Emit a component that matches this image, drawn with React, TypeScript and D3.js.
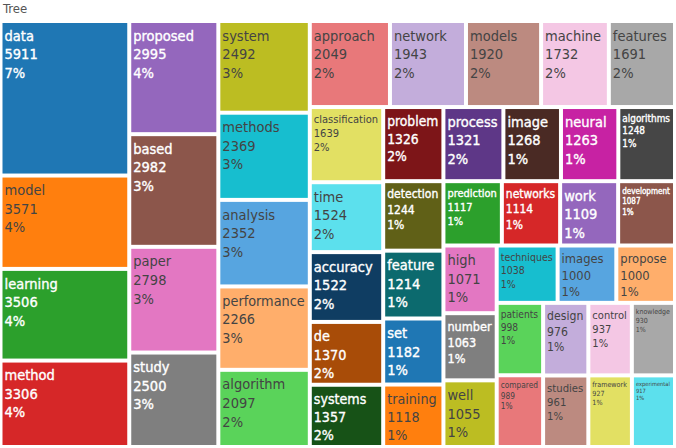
import { useMemo } from "react";
import * as d3 from "d3";

// word frequencies
const words = [
  "data", "model", "learning", "method", "proposed", "based", "paper", "study",
  "system", "methods", "analysis", "performance", "algorithm", "approach", "network",
  "models", "machine", "features", "classification", "time", "accuracy", "de",
  "systems", "problem", "process", "image", "neural", "algorithms", "detection",
  "feature", "set", "training", "prediction", "networks", "work", "development",
  "high", "number", "well", "techniques", "images", "propose", "patients",
  "compared", "design", "studies", "control", "knowledge", "framework", "experimental",
];
const counts = [
  5911, 3571, 3506, 3306, 2995, 2982, 2798, 2500,
  2492, 2369, 2352, 2266, 2097, 2049, 1943,
  1920, 1732, 1691, 1639, 1524, 1522, 1370,
  1357, 1326, 1321, 1268, 1263, 1248, 1244,
  1214, 1182, 1118, 1117, 1114, 1109, 1087,
  1071, 1063, 1055, 1038, 1000, 1000, 998,
  989, 976, 961, 937, 930, 927, 917,
];

// 10 base colours, then lighter and darker versions
const palette = [
  "#1f77b4", "#ff7f0e", "#2ca02c", "#d62728", "#9467bd", "#8c564b", "#e377c2", "#7f7f7f", "#bcbd22", "#17becf",
  "#57a5e0", "#ffae6b", "#5ad35a", "#e8787a", "#c3addb", "#bc8a80", "#f4c7e4", "#a8a8a8", "#e2e063", "#5ce0ed",
  "#0f3d62", "#a84c08", "#175217", "#7d1518", "#5e3787", "#4a2a24", "#c722a3", "#464646", "#606017", "#0c6a6e",
];

const W = 676;
const H = 448;
const FONT = "'DejaVu Sans Condensed', 'DejaVu Sans', sans-serif";
const MAXFS = 14.5;
// the tree was laid out a little wider than shown, then squeezed
const STRETCH = 1.11;

let ctx: CanvasRenderingContext2D | null = null;
function unitWidth(s: string) {
  if (!ctx) ctx = document.createElement("canvas").getContext("2d");
  ctx!.font = `10px ${FONT}`;
  return ctx!.measureText(s).width / 10;
}

function isLight(c: string) {
  const rgb = d3.rgb(c);
  return (rgb.r * 299 + rgb.g * 587 + rgb.b * 114) / 1000 >= 128;
}

export default function App() {
  const total = d3.sum(counts);

  const leaves = useMemo(() => {
    const root = d3
      .hierarchy<any>({ children: words.map((w, i) => ({ name: w, value: counts[i], idx: i })) })
      .sum((d) => d.value ?? 0);
    d3.treemap<any>().tile(d3.treemapSquarify.ratio(1)).size([674.5 * STRETCH, 426])(root);
    return root.leaves() as d3.HierarchyRectangularNode<any>[];
  }, []);

  return (
    <svg width={W} height={H} style={{ position: "absolute", left: 0, top: 0, background: "#fff" }}>
      <text x={3} y={13} fontFamily={FONT} fontSize={13} fill="#555">Tree</text>
      <g transform="translate(0.5,21)">
        {leaves.map((d) => {
          const i = d.data.idx;
          const color = palette[i % palette.length];
          const x = d.x0 / STRETCH + 2;
          const y = d.y0 + 2;
          const w = (d.x1 - d.x0) / STRETCH - 4;
          const h = d.y1 - d.y0 - 4;
          const lines = [d.data.name, String(d.data.value), Math.round((d.data.value / total) * 100) + "%"];
          const uw = d3.max(lines, unitWidth)!;
          let fs = Math.min(MAXFS, (w - 5) / uw);
          fs = Math.min(fs, (h - 4) / (3 * 1.28));
          const light = isLight(color);
          const txt = light ? "#444" : "#fff";
          return (
            <g key={d.data.name}>
              <rect x={x} y={y} width={w} height={h} fill={color} />
              <text
                fontFamily={FONT}
                fontSize={fs}
                fill={txt}
                stroke={light ? "none" : txt}
                strokeWidth={0.35}
              >
                {lines.map((l, k) => (
                  <tspan key={k} x={x + 2} y={y + 2 + 1.08 * fs + k * 1.28 * fs}>{l}</tspan>
                ))}
              </text>
            </g>
          );
        })}
      </g>
    </svg>
  );
}
